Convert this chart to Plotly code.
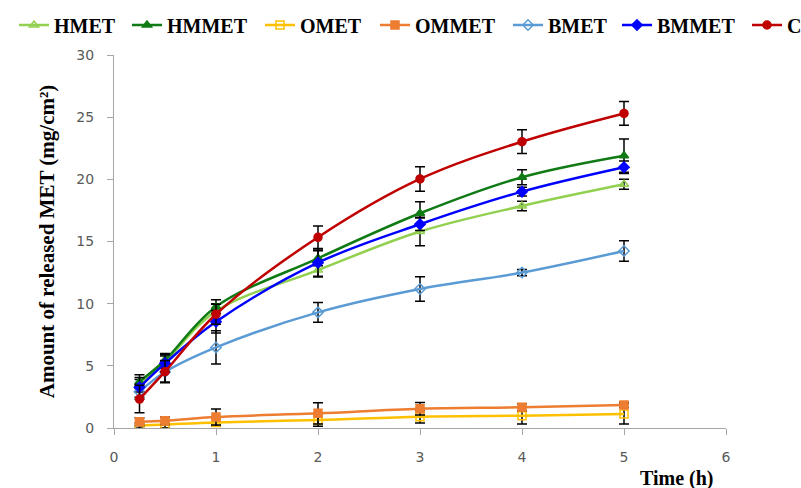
import plotly.graph_objects as go

time_h = [0.25, 0.5, 1, 2, 3, 4, 5]

series_names = ["HMET", "HMMET", "OMET", "OMMET", "BMET", "BMMET", "C"]

hmet = [3.4, 5.3, 9.4, 12.7, 15.8, 17.86, 19.6]
hmet_err = [0.5, 0.5, 0.6, 0.55, 1.15, 0.38, 0.4]

hmmet = [3.73, 5.45, 9.76, 13.65, 17.27, 20.17, 21.9]
hmmet_err = [0.55, 0.55, 0.55, 0.6, 0.93, 0.6, 1.34]

omet = [0.2, 0.28, 0.45, 0.64, 0.91, 0.99, 1.13]
omet_err = [0.2, 0.25, 0.3, 0.5, 0.5, 0.67, 0.8]

ommet = [0.5, 0.59, 0.88, 1.18, 1.55, 1.66, 1.85]
ommet_err = [0.3, 0.3, 0.64, 0.85, 0.5, 0.3, 0.2]

bmet = [2.92, 4.5, 6.48, 9.3, 11.18, 12.5, 14.24]
bmet_err = [0.6, 0.8, 1.34, 0.8, 0.98, 0.25, 0.83]

bmmet = [3.27, 5.2, 8.55, 13.3, 16.39, 19.01, 20.97]
bmmet_err = [0.8, 0.7, 0.9, 1.1, 0.5, 0.35, 0.5]

control = [2.33, 4.53, 9.15, 15.34, 20.03, 23.03, 25.3]
control_err = [1.1, 0.9, 0.8, 0.91, 0.98, 0.95, 0.96]

x_ticks = [0, 1, 2, 3, 4, 5, 6]
y_ticks = [0, 5, 10, 15, 20, 25, 30]

values = [hmet, hmmet, omet, ommet, bmet, bmmet, control]
errors = [hmet_err, hmmet_err, omet_err, ommet_err, bmet_err, bmmet_err, control_err]
colors = ["#92D050", "#107A14", "#FFC000", "#ED7D31", "#5B9BD5", "#0000FF", "#C00000"]
symbols = ["triangle-up-open", "triangle-up", "square-open", "square",
           "diamond-open", "diamond", "circle"]

# one legend box per entry so each entry sits where the reference puts it
legend_text_px = [54, 167, 300, 415, 548, 657, 787]
legend_ids = ["legend"] + ["legend%d" % (i + 2) for i in range(len(series_names) - 1)]

fig = go.Figure()
for name, v, e, c, s, lg in zip(series_names, values, errors, colors, symbols, legend_ids):
    fig.add_trace(go.Scatter(
        x=time_h, y=v, name=name, mode="lines+markers",
        line=dict(color=c, width=2.5, shape="spline"),
        marker=dict(symbol=s, size=8, color=c, line=dict(color=c, width=1.5)),
        error_y=dict(type="data", array=e, visible=True, color="black",
                     thickness=1.5, width=5),
        legend=lg,
    ))

serif = "Liberation Serif"
plot_l, plot_w, plot_t, plot_h = 114, 612, 55, 373
legend_common = dict(orientation="h", yref="paper", y=1 + (plot_t - 25) / plot_h,
                     yanchor="middle", xanchor="left", bgcolor="rgba(0,0,0,0)",
                     font=dict(family=serif, size=20, color="black", weight="bold"),
                     itemclick=False, tracegroupgap=0)
legend_layout = {lg: dict(x=(tx - 40 - plot_l) / plot_w, **legend_common)
                 for lg, tx in zip(legend_ids, legend_text_px)}

fig.update_layout(
    width=801, height=488,
    margin=dict(l=plot_l, r=801 - plot_l - plot_w, t=plot_t, b=488 - plot_t - plot_h,
                autoexpand=False),
    paper_bgcolor="white", plot_bgcolor="white",
    showlegend=True,
    xaxis=dict(range=[0, 6], tickvals=x_ticks, ticks="outside", ticklen=6,
               tickcolor="#A6A6A6", showline=True, linecolor="#A6A6A6", linewidth=1.2,
               showgrid=False, zeroline=False, ticklabelstandoff=10,
               tickfont=dict(family="DejaVu Sans", size=14, color="#595959")),
    yaxis=dict(range=[0, 30], tickvals=y_ticks, ticks="outside", ticklen=6,
               tickcolor="#A6A6A6", showline=True, linecolor="#A6A6A6", linewidth=1.2,
               showgrid=False, zeroline=False, ticklabelstandoff=10,
               tickfont=dict(family="DejaVu Sans", size=14, color="#595959"),
               title=dict(text="Amount of released MET (mg/cm²)", standoff=15,
                          font=dict(family=serif, size=21, color="black", weight="bold"))),
    annotations=[dict(text="Time (h)", xref="paper", yref="paper",
                      x=(677 - plot_l) / plot_w, y=-50 / plot_h,
                      xanchor="center", yanchor="middle", showarrow=False,
                      font=dict(family=serif, size=20, color="black", weight="bold"))],
    **legend_layout,
)

fig.write_html("out.html")
